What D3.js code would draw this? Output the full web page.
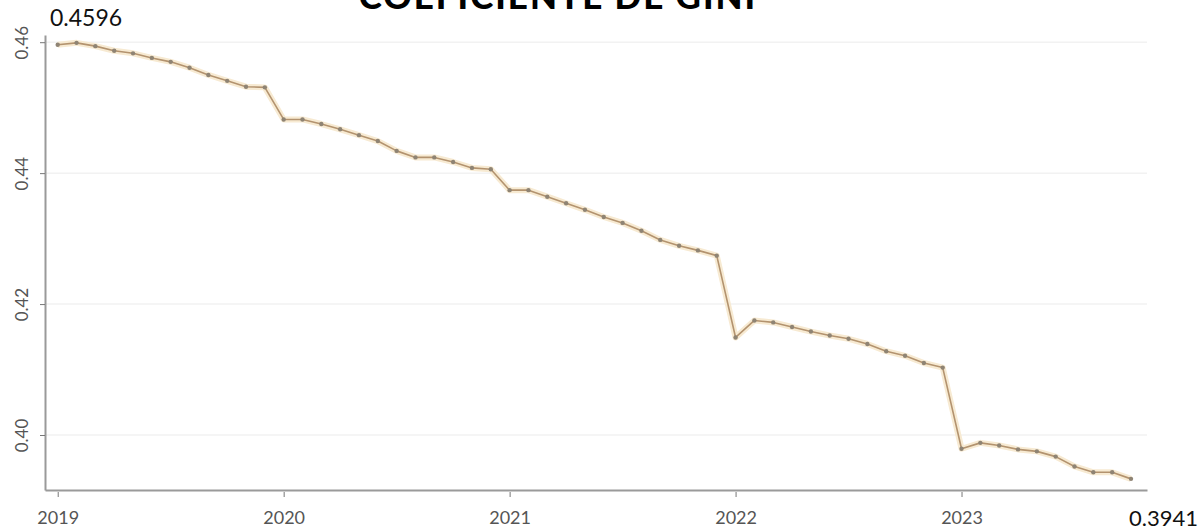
<!DOCTYPE html>
<html><head><meta charset="utf-8">
<script src="https://cdn.jsdelivr.net/npm/d3@7"></script>
<style>body{margin:0;background:#fff}svg{display:block}</style>
</head><body>
<script>
const title = "COEFICIENTE DE GINI";
const years = ["2019","2020","2021","2022","2023"];
const yearTickMonths = [0,12,24,36,48];
const yTicks = [0.40,0.42,0.44,0.46];
// monthly Gini, Jan 2019 .. Oct 2023
const gini = [
 0.4596,0.4599,0.4594,0.4587,0.4583,0.4576,0.4570,0.4561,0.4550,0.4541,0.4532,0.4531,
 0.4482,0.4482,0.4475,0.4467,0.4458,0.4449,0.4434,0.4424,0.4424,0.4417,0.4408,0.4406,
 0.4374,0.4374,0.4364,0.4354,0.4344,0.4333,0.4324,0.4312,0.4298,0.4289,0.4282,0.4274,
 0.4149,0.4175,0.4172,0.4165,0.4158,0.4152,0.4147,0.4139,0.4128,0.4121,0.4110,0.4103,
 0.3979,0.3988,0.3984,0.3978,0.3975,0.3967,0.3952,0.3943,0.3943,0.3933
];
const endLabels = ["0.4596","0.3941"];

const W=1201,H=532;
const svg=d3.select("body").append("svg").attr("width",W).attr("height",H);
const x=d3.scaleLinear().domain([-0.675,57.85]).range([45,1147]);
const y=d3.scaleLinear().domain([0.3916,0.4611]).range([490,35]);
const font="Lato, 'Open Sans', sans-serif";

// gridlines
svg.append("g").selectAll("line").data(yTicks).join("line")
 .attr("x1",45).attr("x2",1147).attr("y1",d=>y(d)).attr("y2",d=>y(d))
 .attr("stroke","#f2f2f2").attr("stroke-width",1.5);

// axes
const xAxis=d3.axisBottom(x).tickValues(yearTickMonths).tickFormat((d,i)=>years[i]).tickSize(6).tickSizeOuter(0);
const gx=svg.append("g").attr("transform","translate(0,490)").call(xAxis);
gx.select(".domain").attr("stroke","#9a9a9a").attr("stroke-width",2);
gx.selectAll(".tick line").attr("stroke","#777").attr("y1",2).attr("y2",7);
gx.selectAll(".tick text").attr("font-family",font).attr("font-size",18).attr("fill","#555")
 .attr("y",34).attr("dy",0);

const yAxis=d3.axisLeft(y).tickValues(yTicks).tickFormat(d3.format(".2f")).tickSize(5).tickSizeOuter(0);
const gy=svg.append("g").attr("transform","translate(45,0)").call(yAxis);
gy.select(".domain").attr("stroke","#9a9a9a").attr("stroke-width",2);
gy.selectAll(".tick line").attr("stroke","#777");
gy.selectAll(".tick text").attr("font-family",font).attr("font-size",17).attr("fill","#555")
 .attr("x",0).attr("dy",0).attr("text-anchor","middle")
 .attr("transform","translate(-17,0) rotate(-90)");

// line
const line=d3.line().x((d,i)=>x(i)).y(d=>y(d));
svg.append("path").datum(gini).attr("d",line).attr("fill","none")
 .attr("stroke","#f7ead2").attr("stroke-width",6).attr("stroke-linejoin","round");
svg.append("path").datum(gini).attr("d",line).attr("fill","none")
 .attr("stroke","#b3936f").attr("stroke-width",1.6).attr("stroke-linejoin","round");
svg.append("g").selectAll("circle").data(gini).join("circle")
 .attr("cx",(d,i)=>x(i)).attr("cy",d=>y(d)).attr("r",2.2).attr("fill","#8f8474");

// labels
svg.append("text").attr("x",50).attr("y",26).attr("font-family",font).attr("font-size",23).attr("fill","#111").text(endLabels[0]);
svg.append("text").attr("x",1198).attr("y",526).attr("text-anchor","end").attr("font-family",font).attr("font-size",22).attr("fill","#111").text(endLabels[1]);

// title (top clipped as in reference)
svg.append("text").attr("x",558).attr("y",9).attr("text-anchor","middle").attr("font-family",font)
 .attr("font-weight","900").attr("font-size",35).attr("letter-spacing",2).attr("fill","#000").text(title);
</script>
</body></html>
